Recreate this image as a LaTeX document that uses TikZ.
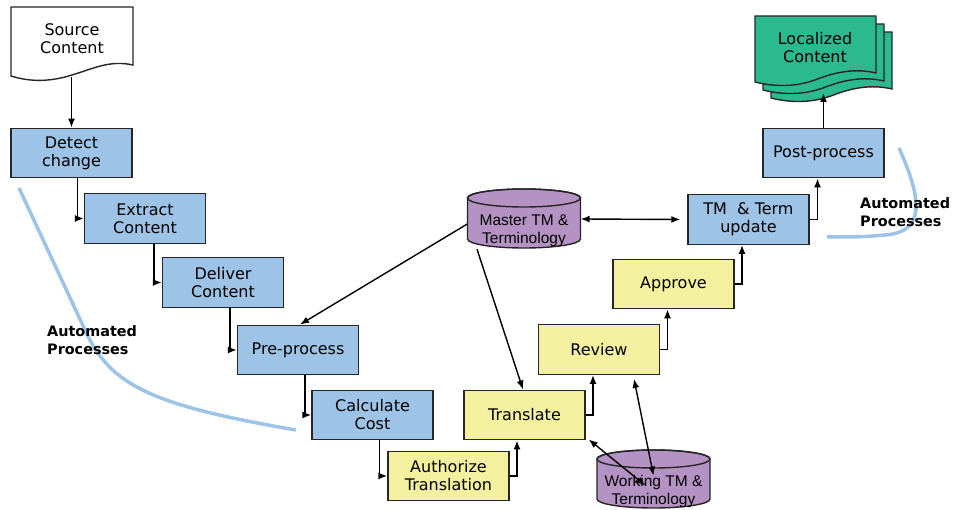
\documentclass[tikz,border=0pt]{standalone}
\usepackage{fontspec}
\setmainfont{DejaVu Sans}
\newfontfamily\arialf{Liberation Sans}
\usetikzlibrary{arrows.meta,backgrounds}
\definecolor{boxblue}{HTML}{9DC3E6}
\definecolor{boxyellow}{HTML}{F3F19F}
\definecolor{cylpurple}{HTML}{B592C4}
\definecolor{docgreen}{HTML}{2BB98E}
\definecolor{curveblue}{HTML}{9DC3E6}
\begin{document}
\begin{tikzpicture}[x=1pt,y=-1pt,font=\fontsize{16}{18}\selectfont,
 box/.style={draw=black!85, line width=1.4pt, minimum width=121pt, minimum height=49.5pt, inner sep=1pt, align=center},
 bluebox/.style={box, fill=boxblue},
 yellowbox/.style={box, fill=boxyellow},
 conn/.style={line width=1.4pt, -{Latex[length=9pt,width=7pt]}},
 dconn/.style={line width=1.4pt, {Latex[length=9pt,width=7pt]}-{Latex[length=9pt,width=7pt]}},
 shapeline/.style={draw=black!85, line width=1.4pt},
 curvestyle/.style={draw=curveblue, line width=3.5pt},
 autotext/.style={font=\fontsize{14.4}{18}\selectfont\bfseries, align=left, anchor=west, inner sep=0pt},
 cyltext/.style={font=\arialf\fontsize{15.5}{18}\selectfont, align=center, inner sep=0pt, minimum width=113pt},
 doctext/.style={align=center, inner sep=0pt}]
\useasboundingbox (0,0) rectangle (954,510);

% blue curves
\draw[curvestyle] (19,188) -- (85,330) .. controls (110,385) and (150,405) .. (296,430);
\draw[curvestyle] (899,148) .. controls (920,195) and (928,232) .. (885,235) .. controls (860,237) .. (827,237);

% source document
\path[shapeline, fill=white] (11,7) -- (133,7) -- (133,65) .. controls (110,60) and (95,68) .. (72,75) .. controls (50,82) and (30,82) .. (11,76) -- cycle;
\node[doctext] (src) at (72,39) {Source\\Content};
\coordinate (srcbot) at (71.5,77);

% localized content (stack)
\foreach \o in {16,8,0}{
 \path[shapeline, fill=docgreen, shift={(\o,\o)}] (755,16) -- (876,16) -- (876,73) .. controls (855,68) and (835,72) .. (815,80) .. controls (795,87) and (775,87) .. (755,82) -- cycle;
}
\node[doctext] (loc) at (815,48) {Localized\\Content};
\coordinate (locbot) at (823.5,93);

% cylinders
\path[shapeline, fill=cylpurple] (467.5,198) -- (467.5,239) arc[start angle=180, end angle=0, x radius=56.5, y radius=9] -- (580.5,198) arc[start angle=0, end angle=-180, x radius=56.5, y radius=9] -- cycle;
\draw[shapeline] (524,198) ellipse[x radius=56.5, y radius=9];
\node[cyltext] (master) at (524,231) {Master TM \&\\Terminology};

\path[shapeline, fill=cylpurple] (597,459) -- (597,499) arc[start angle=180, end angle=0, x radius=56.5, y radius=9] -- (710,459) arc[start angle=0, end angle=-180, x radius=56.5, y radius=9] -- cycle;
\draw[shapeline] (653.5,459) ellipse[x radius=56.5, y radius=9];
\node[cyltext] (working) at (653.5,491) {Working TM \&\\Terminology};

% boxes
\node[bluebox] (detect) at (71.5,153) {Detect\\change};
\node[bluebox] (extract) at (145,218.5) {Extract\\Content};
\node[bluebox] (deliver) at (223,282.5) {Deliver\\Content};
\node[bluebox] (pre) at (298,350) {Pre-process};
\node[bluebox] (calc) at (372.5,415) {Calculate\\Cost};
\node[yellowbox] (auth) at (448.5,476) {Authorize\\Translation};
\node[yellowbox] (translate) at (524.5,415) {Translate};
\node[yellowbox] (review) at (599,349.5) {Review};
\node[yellowbox] (approve) at (673.5,284) {Approve};
\node[bluebox] (tmupdate) at (748.5,219.5) {TM~ \& Term\\update};
\node[bluebox] (post) at (823.5,153) {Post-process};

% labels
\node[autotext] (autoL) at (47,340) {Automated\\Processes};
\node[autotext] (autoR) at (860,212) {Automated\\Processes};

% connectors
\draw[conn] (srcbot) -- (detect.north);
\draw[conn] (detect.south west) ++(67,0) |- (extract.west);
\draw[conn] (extract.south west) ++(70,0) |- (deliver.west);
\draw[conn] (deliver.south west) ++(68,0) |- (pre.west);
\draw[conn] (pre.south west) ++(68,0) |- (calc.west);
\draw[conn] (calc.south west) ++(68,0) |- (auth.west);
\draw[conn] (auth.east) -| ([xshift=-7.5pt]translate.south);
\draw[conn] (translate.east) -| ([xshift=-6pt]review.south);
\draw[conn] (review.east) -| ([xshift=-6pt]approve.south);
\draw[conn] (approve.east) -| ([xshift=-6.5pt]tmupdate.south);
\draw[conn] (tmupdate.east) -| ([xshift=-6pt]post.south);
\draw[conn] (post.north) -- (locbot);
\draw[dconn] ([yshift=12pt]master.east) -- ([xshift=-7pt]tmupdate.west);
\draw[conn] ([yshift=7pt]master.west) -- ([xshift=2pt]pre.north);
\draw[conn] ([xshift=-47pt,yshift=-2pt]master.south) -- ([xshift=-1.5pt]translate.north);
\draw[dconn] ([xshift=3pt,yshift=1pt]translate.south east) -- ([xshift=-8pt,yshift=-11pt]working.north);
\draw[dconn] ([xshift=35pt,yshift=-4pt]review.south) -- ([yshift=-1pt]working.north);
\end{tikzpicture}
\end{document}
